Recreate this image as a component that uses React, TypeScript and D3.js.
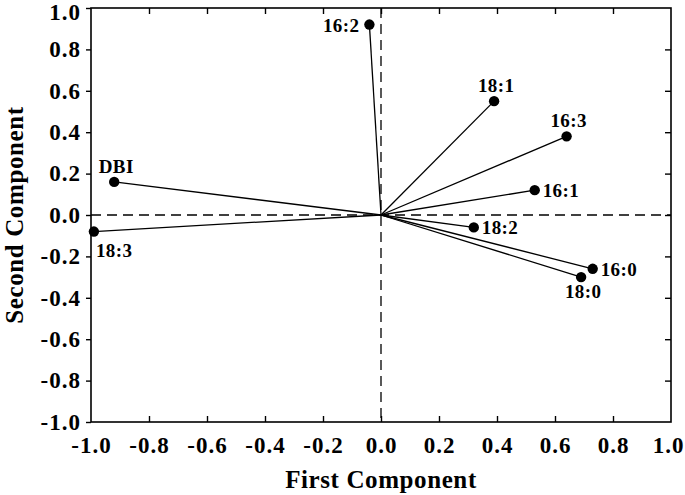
import { useEffect, useRef } from "react";
import * as d3 from "d3";

// loadings
const labels = ["16:2", "18:1", "16:3", "16:1", "18:2", "16:0", "18:0", "DBI", "18:3"];
const firstComp = [-0.04, 0.39, 0.64, 0.53, 0.32, 0.73, 0.69, -0.92, -0.99];
const secondComp = [0.92, 0.55, 0.38, 0.12, -0.06, -0.26, -0.3, 0.16, -0.08];
// where each label sits relative to its point
const labelSide = ["left", "top", "top", "right", "right", "right", "bottom", "top", "belowRight"];

const tickValues = [-1, -0.8, -0.6, -0.4, -0.2, 0, 0.2, 0.4, 0.6, 0.8, 1];

const W = 685;
const H = 495;
const margin = { top: 8, right: 14, bottom: 73, left: 91 };

const App = () => {
  const ref = useRef<SVGSVGElement>(null);

  useEffect(() => {
    const svg = d3.select(ref.current);
    svg.selectAll("*").remove();

    const x = d3.scaleLinear().domain([-1, 1]).range([margin.left, W - margin.right]);
    const y = d3.scaleLinear().domain([-1, 1]).range([H - margin.bottom, margin.top]);
    const font = "'Liberation Serif', 'Times New Roman', serif";
    const fmt = (v: number) => (Math.abs(v) < 1e-9 ? 0 : v).toFixed(1);

    const g = svg.append("g").attr("font-family", font).attr("font-weight", "bold");

    // frame
    g.append("rect")
      .attr("x", x(-1)).attr("y", y(1))
      .attr("width", x(1) - x(-1)).attr("height", y(-1) - y(1))
      .attr("fill", "none").attr("stroke", "#000").attr("stroke-width", 1.6);

    // bottom axis, ticks inward
    const bottom = g.append("g").attr("transform", `translate(0,${y(-1)})`)
      .call(d3.axisBottom(x).tickValues(tickValues).tickFormat((d) => fmt(d as number)).tickSize(-6).tickPadding(15));
    // top ticks
    const top = g.append("g").attr("transform", `translate(0,${y(1)})`)
      .call(d3.axisTop(x).tickValues(tickValues.slice(1, -1)).tickFormat(() => "").tickSize(-6));
    // left axis, ticks outward
    const left = g.append("g").attr("transform", `translate(${x(-1)},0)`)
      .call(d3.axisLeft(y).tickValues(tickValues).tickFormat((d) => fmt(d as number)).tickSize(5).tickPadding(5));
    // right ticks inward
    const right = g.append("g").attr("transform", `translate(${x(1)},0)`)
      .call(d3.axisRight(y).tickValues(tickValues.slice(1, -1)).tickFormat(() => "").tickSize(-6));

    [bottom, top, left, right].forEach((a) => {
      a.select(".domain").remove();
      a.selectAll("line").attr("stroke", "#000").attr("stroke-width", 1.4);
      a.selectAll("text")
        .attr("fill", "#000")
        .attr("font-family", font)
        .attr("font-weight", "bold")
        .attr("font-size", 23)
        .attr("letter-spacing", 1);
    });
    bottom.selectAll("line").filter((d) => d === -1 || d === 1).remove();
    // keep the corner labels inside the page
    left.selectAll("text").filter((d) => d === 1).attr("dy", "0.5em");
    bottom.selectAll("text").filter((d) => d === 1).attr("dx", -3);

    // dashed zero lines
    g.append("line")
      .attr("x1", x(-1)).attr("x2", x(1)).attr("y1", y(0)).attr("y2", y(0))
      .attr("stroke", "#000").attr("stroke-width", 1.3).attr("stroke-dasharray", "10,6");
    g.append("line")
      .attr("x1", x(0)).attr("x2", x(0)).attr("y1", y(1)).attr("y2", y(-1))
      .attr("stroke", "#000").attr("stroke-width", 1.3).attr("stroke-dasharray", "10,6");

    const idx = d3.range(labels.length);

    // vectors from origin
    g.selectAll(".vec").data(idx).enter().append("line")
      .attr("x1", x(0)).attr("y1", y(0))
      .attr("x2", (i) => x(firstComp[i])).attr("y2", (i) => y(secondComp[i]))
      .attr("stroke", "#000").attr("stroke-width", 1.3);

    g.selectAll(".pt").data(idx).enter().append("circle")
      .attr("cx", (i) => x(firstComp[i])).attr("cy", (i) => y(secondComp[i]))
      .attr("r", 5.2).attr("fill", "#000");

    const off: Record<string, [number, number, string]> = {
      left: [-10, 7, "end"],
      right: [8, 7, "start"],
      top: [2, -9, "middle"],
      bottom: [2, 21, "middle"],
      belowRight: [2, 25, "start"],
    };
    g.selectAll(".lab").data(idx).enter().append("text")
      .attr("x", (i) => x(firstComp[i]) + off[labelSide[i]][0])
      .attr("y", (i) => y(secondComp[i]) + off[labelSide[i]][1])
      .attr("text-anchor", (i) => off[labelSide[i]][2])
      .attr("font-size", 19)
      .attr("letter-spacing", 0.4)
      .text((i) => labels[i]);

    // axis titles
    g.append("text")
      .attr("x", x(0)).attr("y", 488)
      .attr("text-anchor", "middle").attr("font-size", 25).attr("letter-spacing", 0.6)
      .text("First Component");
    g.append("text")
      .attr("transform", `translate(23,${y(0)}) rotate(-90)`)
      .attr("text-anchor", "middle").attr("font-size", 25).attr("letter-spacing", 0.6)
      .text("Second Component");
  }, []);

  return (
    <svg
      ref={ref}
      width={W}
      height={H}
      style={{ position: "absolute", left: 0, top: 0, background: "#fff" }}
    />
  );
};

export default App;
